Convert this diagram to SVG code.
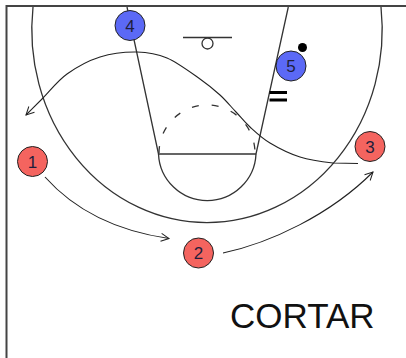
<svg xmlns="http://www.w3.org/2000/svg" width="406" height="358" viewBox="0 0 406 358">
<defs>
<marker id="arr" markerUnits="userSpaceOnUse" markerWidth="10" markerHeight="10" refX="8" refY="4" orient="auto" overflow="visible">
<path d="M0,0 L8,4 L0,8" fill="none" stroke="#222" stroke-width="1"/>
</marker>
<style>
.court{fill:none;stroke:#333;stroke-width:1.3}
.border{fill:none;stroke:#444;stroke-width:2}
.move{fill:none;stroke:#222;stroke-width:1.1}
.off{fill:#f4645f;stroke:#222;stroke-width:1}
.def{fill:#5b69f6;stroke:#222;stroke-width:1}
.num{font-family:"Liberation Sans",Arial,sans-serif;font-size:17px;fill:#1e1e3c;text-anchor:middle}
.title{font-family:"Liberation Sans",Arial,sans-serif;font-size:35px;fill:#111}
</style>
</defs>
<rect width="406" height="358" fill="#fff"/>
<g id="court">
<path class="border" d="M6.5,358 L6.5,6 L406,6"/>
<path class="court" d="M33,7 A175.2,193 0 1 0 381,7"/>
<path class="court" d="M127,7 L158.5,154 M288.3,7 L256,154 M158.5,154 L256,154"/>
<path class="court" d="M158.5,154 A48.8,48.8 0 0 0 256,154"/>
<path class="court" d="M159,153 A48,48 0 0 1 255,153" stroke-dasharray="7 13" stroke-width="1.5"/>
<path class="court" d="M183,37.5 L232,37.5"/>
<circle class="court" cx="207.5" cy="43.5" r="5.5" fill="#fff"/>
</g>
<g id="connectors">
<path class="move" marker-end="url(#arr)" d="M358,163.5 L333,163 C323.3,161.9 310.5,160.3 300,157 C289.5,153.7 278.3,148 270,143 C261.7,138 255.7,132.2 250,127 C244.3,121.8 241,117.3 236,112 C231,106.7 226,100.5 220,95 C214,89.5 208.8,85.2 200,79 C191.2,72.8 177.5,62.5 167,58 C156.5,53.5 148.2,52.2 137,52 C125.8,51.8 111.7,53.3 100,57 C88.3,60.7 76.5,67.2 67,74 C57.5,80.8 49.8,91.2 43,98 C36.2,104.8 31.7,109.3 26,115"/>
<path class="move" marker-end="url(#arr)" d="M45,177 C70,205 110,230 169,238.5"/>
<path class="move" marker-end="url(#arr)" d="M223,253 C270,243 330,215 373,172"/>
</g>
<g id="screen">
<path d="M269.5,92.5 L287,92.5 M269.5,100 L287,100" stroke="#000" stroke-width="3"/>
</g>
<g id="player4">
<circle class="def" cx="130" cy="25.5" r="15"/>
<text class="num" x="130" y="31.5">4</text>
</g>
<g id="player5">
<circle class="def" cx="291" cy="66" r="15"/>
<text class="num" x="291" y="72">5</text>
<circle cx="302.5" cy="47.5" r="4.5" fill="#000"/>
</g>
<g id="player1">
<circle class="off" cx="32.5" cy="161.5" r="15"/>
<text class="num" x="32.5" y="167.5">1</text>
</g>
<g id="player2">
<circle class="off" cx="198.5" cy="253" r="15"/>
<text class="num" x="198.5" y="259">2</text>
</g>
<g id="player3">
<circle class="off" cx="370" cy="146.5" r="15"/>
<text class="num" x="370" y="152.5">3</text>
</g>
<g id="label">
<text class="title" x="230" y="328">CORTAR</text>
</g>
</svg>
